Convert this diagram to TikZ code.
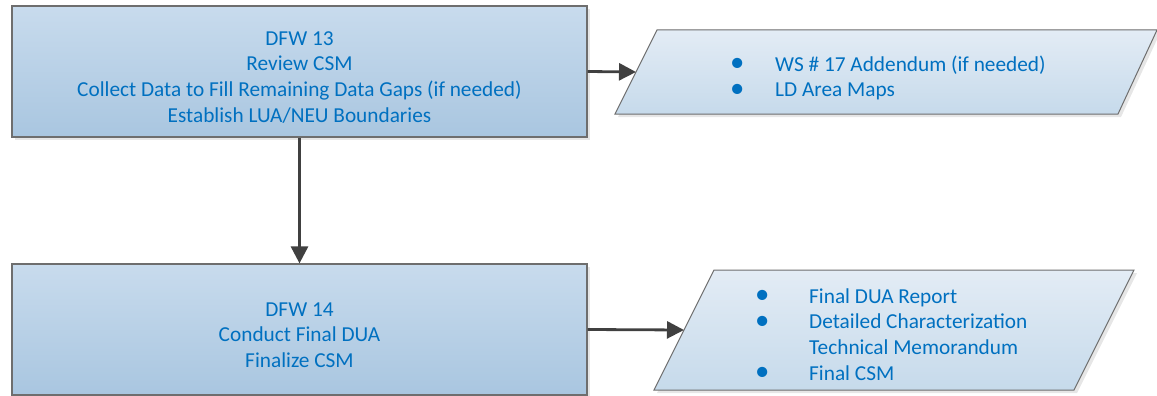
\documentclass[tikz,border=0pt]{standalone}
\usepackage{fontspec}
\setmainfont{Carlito}
\usetikzlibrary{arrows.meta,shadows,calc}
\definecolor{txtblue}{HTML}{0070C0}
\definecolor{boxtop}{HTML}{C8DBED}
\definecolor{boxbot}{HTML}{A9C6E0}
\definecolor{partop}{HTML}{E3ECF5}
\definecolor{parbot}{HTML}{C6DAEB}
\definecolor{edgec}{HTML}{6E6E6E}
\definecolor{arrowc}{HTML}{404040}
\newcommand{\bulletmark}{\makebox[0pt]{\raisebox{-0.6pt}{\scalebox{1.35}{\textbullet}}}}
\begin{document}
\begin{tikzpicture}[x=1pt,y=-1pt,
  shadowed/.style={drop shadow={shadow xshift=3pt, shadow yshift=-3pt, opacity=0.22, fill=black!45}},
  box/.style={draw=edgec, line width=1.2pt, top color=boxtop, bottom color=boxbot,
    minimum width=575pt, minimum height=131pt, inner sep=0pt, shadowed},
  para/.style={draw=edgec, line width=1pt, top color=partop, bottom color=parbot, shadowed},
  txt/.style={text=txtblue, font=\fontsize{21.3}{25.7}\selectfont, inner sep=0pt},
  conn/.style={draw=arrowc, line width=2.8pt, -{Triangle[length=17pt,width=17pt]}}]
\useasboundingbox (0,0) rectangle (1157,396);

% process boxes
\node[box] (b1) at (299.5,71.5) {};
\node[box] (b2) at (299.5,329.5) {};

% output parallelograms
\coordinate (p1nw) at (657,30);
\coordinate (p1ne) at (1157,30);
\coordinate (p1se) at (1118,114);
\coordinate (p1sw) at (615,114);
\path[para] (p1nw) -- (p1ne) -- (p1se) -- (p1sw) -- cycle;
\coordinate (p1w) at ($(p1nw)!0.5!(p1sw)$);

\coordinate (p2nw) at (714,270);
\coordinate (p2ne) at (1134,270);
\coordinate (p2se) at (1074,390);
\coordinate (p2sw) at (654,390);
\path[para] (p2nw) -- (p2ne) -- (p2se) -- (p2sw) -- cycle;
\coordinate (p2w) at ($(p2nw)!0.5!(p2sw)$);

% texts
\node[txt, align=center, anchor=north] (t1) at (299.5,29)
  {\rule{0pt}{16pt}DFW 13\\Review CSM\\Collect Data to Fill Remaining Data Gaps (if needed)\\Establish LUA/NEU Boundaries};
\node[txt, align=center, anchor=north] (t2) at (299.5,300)
  {\rule{0pt}{16pt}DFW 14\\Conduct Final DUA\\Finalize CSM};

\node[txt, align=left, anchor=north west] (l1) at (737,55)
  {\rule{0pt}{16pt}\bulletmark\hspace*{38pt}WS \# 17 Addendum (if needed)\\
   \bulletmark\hspace*{38pt}LD Area Maps};
\node[txt, align=left, anchor=north west] (l2) at (762,287)
  {\rule{0pt}{16pt}\bulletmark\hspace*{47pt}Final DUA Report\\
   \bulletmark\hspace*{47pt}Detailed Characterization\\
   \hspace*{47pt}Technical Memorandum\\
   \bulletmark\hspace*{47pt}Final CSM};

% connectors
\draw[conn] (b1.east) -- (p1w);
\draw[conn] (b1.south) -- (b2.north);
\draw[conn] (b2.east) -- (p2w);
\end{tikzpicture}
\end{document}
